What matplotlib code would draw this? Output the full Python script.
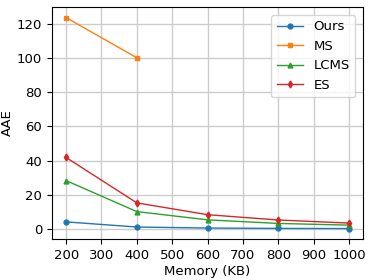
import matplotlib
matplotlib.use("Agg")
import matplotlib.pyplot as plt

# Memory sizes (KB) and AAE per method
memory = [200, 400, 600, 800, 1000]
ours = [4.2, 1.2, 0.6, 0.4, 0.3]
ms_memory = [200, 400]
ms = [123.5, 100.0]
lcms = [28.3, 10.2, 5.4, 3.3, 2.3]
es = [41.8, 15.3, 8.4, 5.3, 3.5]

fig, ax = plt.subplots(figsize=(3.74, 2.8), dpi=100)
ax.plot(memory, ours, marker="o", markersize=3.5, linewidth=1, label="Ours")
ax.plot(ms_memory, ms, marker="s", markersize=3.5, linewidth=1, label="MS")
ax.plot(memory, lcms, marker="^", markersize=3.5, linewidth=1, label="LCMS")
ax.plot(memory, es, marker="d", markersize=3.5, linewidth=1, label="ES")

ax.set_xticks([200, 300, 400, 500, 600, 700, 800, 900, 1000])
ax.set_yticks([0, 20, 40, 60, 80, 100, 120])
ax.tick_params(labelsize=9.5)
ax.set_xlabel("Memory (KB)", fontsize=9.5, labelpad=2)
ax.set_ylabel("AAE", fontsize=9.5, labelpad=2)
ax.grid(True, color="#cccccc", linewidth=1)
ax.legend(fontsize=9.5, loc="upper right", borderaxespad=0.6)

plt.subplots_adjust(left=0.139, right=0.971, bottom=0.146, top=0.975)
plt.savefig("out.png", dpi=100)
plt.close()
